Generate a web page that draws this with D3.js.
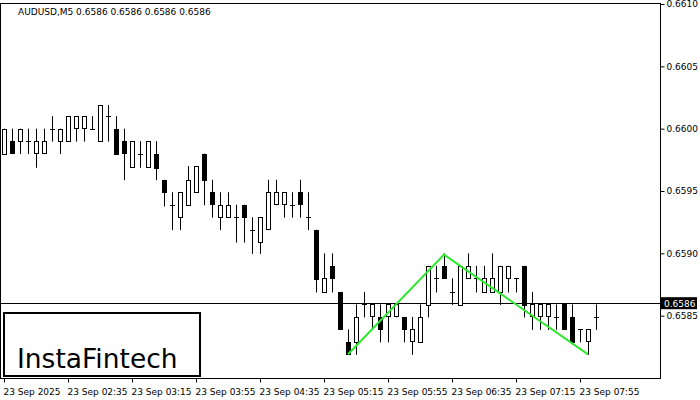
<!DOCTYPE html>
<html><head><meta charset="utf-8">
<script src="https://cdn.jsdelivr.net/npm/d3@7"></script>
<style>body{margin:0;background:#fff}svg{display:block}text{font-family:"DejaVu Sans",sans-serif}</style>
</head><body><svg id="c" width="700" height="400"></svg>
<script>
const openP=[0.6598,0.6599,0.6599,0.6599,0.6598,0.6598,0.6600,0.6599,0.6599,0.6600,0.6600,0.6600,0.6599,0.6601,0.6600,0.6599,0.65969,0.6598,0.65969,0.6598,0.65959,0.65939,0.65929,0.65939,0.65949,0.6598,0.65949,0.65929,0.65929,0.65929,0.65939,0.65919,0.65909,0.65919,0.65939,0.65939,0.65939,0.65949,0.65929,0.65919,0.65869,0.6589,0.65869,0.65829,0.65829,0.65859,0.65849,0.65849,0.65849,0.65849,0.65849,0.65829,0.65829,0.65859,0.6588,0.6589,0.65869,0.65859,0.6588,0.6588,0.65869,0.65869,0.65869,0.6588,0.6588,0.6589,0.65849,0.65849,0.65849,0.65849,0.65859,0.65849,0.65839,0.65829,0.65849];
const highP=[0.6600,0.6600,0.6600,0.6600,0.6600,0.6600,0.6601,0.6600,0.6601,0.6601,0.6601,0.6601,0.66019,0.66019,0.6601,0.6600,0.6599,0.6599,0.6599,0.6599,0.65959,0.65949,0.65949,0.6597,0.6597,0.6598,0.65959,0.65949,0.65949,0.65939,0.65939,0.65929,0.65929,0.65959,0.65959,0.65949,0.65949,0.65959,0.65949,0.65919,0.659,0.659,0.65869,0.65839,0.65859,0.65869,0.65859,0.65859,0.65859,0.65859,0.65849,0.65849,0.65859,0.6589,0.6589,0.659,0.6588,0.6589,0.659,0.6589,0.6589,0.659,0.6589,0.6589,0.6588,0.6589,0.65869,0.65859,0.65859,0.65859,0.65859,0.65859,0.65839,0.65839,0.65859];
const lowP=[0.6598,0.6598,0.6598,0.6598,0.65969,0.6598,0.6599,0.6598,0.6599,0.6599,0.6599,0.6600,0.6599,0.6599,0.6598,0.65959,0.65969,0.65969,0.65969,0.65959,0.65938,0.65919,0.65919,0.65939,0.65949,0.65939,0.65929,0.65919,0.65929,0.65909,0.65909,0.659,0.659,0.65919,0.65939,0.65929,0.65929,0.65929,0.65919,0.65869,0.65869,0.65869,0.65839,0.65819,0.65819,0.65849,0.65839,0.65829,0.65829,0.65849,0.65829,0.65819,0.65829,0.65849,0.65869,0.6588,0.65859,0.65859,0.6588,0.65869,0.65869,0.65869,0.65859,0.65869,0.65869,0.65849,0.65839,0.65839,0.65839,0.65839,0.65839,0.65829,0.65829,0.65819,0.65839];
const closeP=[0.6600,0.6598,0.6600,0.6599,0.6599,0.6599,0.6600,0.6600,0.6601,0.6601,0.6601,0.6600,0.66019,0.6601,0.6598,0.6598,0.6599,0.6598,0.6599,0.65969,0.65949,0.65939,0.65949,0.65959,0.6597,0.65959,0.65939,0.65939,0.65939,0.65929,0.65929,0.65919,0.65929,0.65949,0.65949,0.65949,0.65939,0.65939,0.65929,0.6588,0.6588,0.6588,0.65839,0.65819,0.65849,0.65859,0.65859,0.65839,0.65859,0.65859,0.65839,0.65839,0.65849,0.6589,0.6588,0.6588,0.65869,0.6589,0.6589,0.6588,0.6588,0.6588,0.6589,0.6589,0.6588,0.65859,0.65859,0.65859,0.65859,0.65849,0.65839,0.65829,0.65839,0.65839,0.65849];
const yTicks=[0.6585,0.6590,0.6595,0.6600,0.6605,0.6610];
const timeLabels=["23 Sep 2025","23 Sep 02:35","23 Sep 03:15","23 Sep 03:55","23 Sep 04:35","23 Sep 05:15","23 Sep 05:55","23 Sep 06:35","23 Sep 07:15","23 Sep 07:55"];
const timeIdx=[0,8,16,24,32,40,48,56,64,72];
const patternIdx=[43,55,73];
const patternP=[0.65819,0.65899,0.65819];
const currentP=0.6586;

const svg=d3.select("#c");
const x=d3.scaleLinear().domain([0,74]).range([4,596]);
const y=d3.scaleLinear().domain([0.6580,0.6610]).range([378,4]);
svg.append("rect").attr("x",0.5).attr("y",3.5).attr("width",660).attr("height",375).attr("fill","none").attr("stroke","#000");
const ya=svg.append("g").attr("transform","translate(660.5,0)").call(d3.axisRight(y).tickValues(yTicks).tickFormat(d3.format(".4f")).tickSize(4).tickSizeOuter(0));
ya.select(".domain").remove();
ya.selectAll("text").attr("font-size",9).attr("x",6).attr("font-family","DejaVu Sans");
const xa=svg.append("g").attr("transform","translate(0,378.5)").call(d3.axisBottom(x).tickValues(timeIdx).tickFormat((d,i)=>timeLabels[i]).tickSize(4).tickSizeOuter(0));
xa.select(".domain").remove();
xa.selectAll("text").attr("font-size",9).attr("text-anchor","start").attr("dx",-1).attr("y",10).attr("font-family","DejaVu Sans");
svg.append("line").attr("x1",0).attr("x2",660).attr("y1",Math.round(y(currentP))+0.5).attr("y2",Math.round(y(currentP))+0.5).attr("stroke","#000");
const idx=d3.range(openP.length);
const g=svg.append("g");
g.selectAll("line.w").data(idx).join("line").attr("x1",i=>Math.round(x(i))+0.5).attr("x2",i=>Math.round(x(i))+0.5)
 .attr("y1",i=>y(highP[i])).attr("y2",i=>y(lowP[i])+0.5).attr("stroke","#000");
g.selectAll("rect").data(idx).join("rect")
 .attr("x",i=>Math.round(x(i))-1.5).attr("width",4)
 .attr("y",i=>Math.round(y(Math.max(openP[i],closeP[i])))+0.5)
 .attr("height",i=>Math.max(0.01,Math.round(Math.abs(y(openP[i])-y(closeP[i])))))
 .attr("fill",i=>closeP[i]<openP[i]?"#000":"#fff").attr("stroke","#000");
svg.append("path").attr("d",d3.line().x((d,i)=>x(patternIdx[i])).y(d=>y(d))(patternP))
 .attr("fill","none").attr("stroke","#2ee82e").attr("stroke-width",2);
const cy=y(currentP);
svg.append("rect").attr("x",661).attr("y",cy-6).attr("width",36).attr("height",12).attr("fill","#000");
svg.append("text").attr("x",664).attr("y",cy+3.5).attr("fill","#fff").attr("font-size",9).text(d3.format(".4f")(currentP));
svg.append("text").attr("x",18).attr("y",15).attr("font-size",9).text("AUDUSD,M5  0.6586 0.6586 0.6586 0.6586");
svg.append("rect").attr("x",4).attr("y",313).attr("width",196).attr("height",63).attr("fill","#fff").attr("stroke","#000").attr("stroke-width",2);
svg.append("text").attr("x",17).attr("y",368).attr("font-size",26.5).attr("font-family","Roboto, sans-serif").text("InstaFintech");
</script></body></html>
